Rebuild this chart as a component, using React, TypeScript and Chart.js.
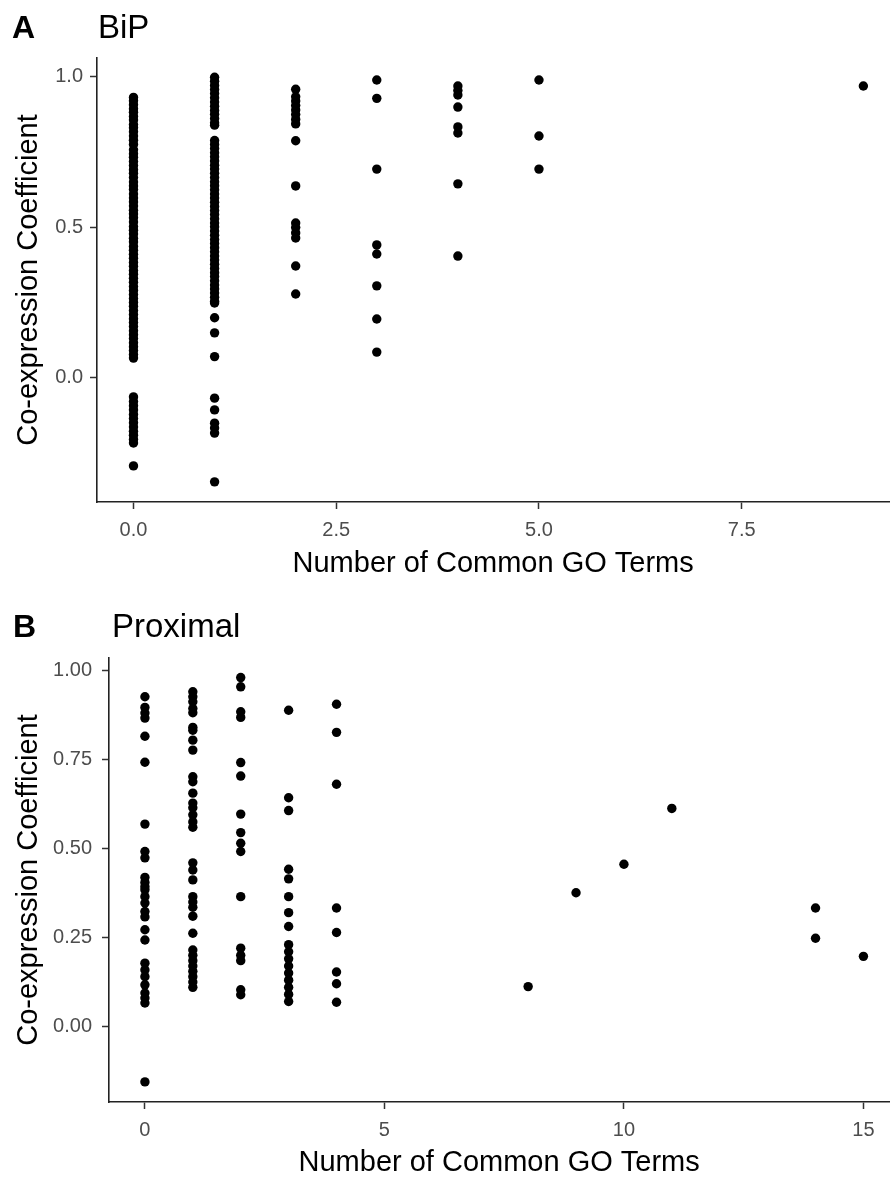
import React, { useEffect, useRef } from "react";
import { Chart, registerables } from "chart.js";

Chart.register(...registerables);

const FONT = "'Liberation Sans', Arial, sans-serif";

// ---------- Panel A: BiP ----------
const bipGO0 = [0.932, 0.921, 0.908, 0.894, 0.883, 0.869, 0.857, 0.842, 0.831, 0.818, 0.804, 0.79, 0.776, 0.758, 0.745, 0.733, 0.719, 0.706, 0.692, 0.68, 0.666, 0.651, 0.638, 0.626, 0.611, 0.598, 0.585, 0.571, 0.557, 0.545, 0.532, 0.518, 0.503, 0.491, 0.478, 0.464, 0.452, 0.437, 0.424, 0.411, 0.398, 0.384, 0.371, 0.357, 0.345, 0.331, 0.318, 0.304, 0.291, 0.277, 0.264, 0.251, 0.238, 0.224, 0.211, 0.197, 0.184, 0.171, 0.157, 0.144, 0.131, 0.117, 0.104, 0.091, 0.078, 0.066, -0.063, -0.078, -0.092, -0.106, -0.121, -0.135, -0.149, -0.163, -0.177, -0.19, -0.204, -0.216, -0.292];
const bipGO1 = [0.999, 0.986, 0.972, 0.958, 0.945, 0.931, 0.917, 0.903, 0.889, 0.876, 0.862, 0.848, 0.84, 0.789, 0.776, 0.762, 0.748, 0.735, 0.721, 0.707, 0.694, 0.68, 0.666, 0.652, 0.639, 0.625, 0.611, 0.598, 0.584, 0.57, 0.556, 0.543, 0.529, 0.515, 0.502, 0.488, 0.474, 0.46, 0.447, 0.433, 0.419, 0.405, 0.392, 0.378, 0.364, 0.35, 0.337, 0.323, 0.309, 0.296, 0.282, 0.268, 0.255, 0.249, 0.2, 0.15, 0.071, -0.067, -0.106, -0.15, -0.166, -0.183, -0.345];
const bipGO2 = [0.959, 0.934, 0.92, 0.905, 0.89, 0.875, 0.859, 0.844, 0.788, 0.638, 0.515, 0.5, 0.482, 0.465, 0.372, 0.279];
const bipGO3 = [0.99, 0.929, 0.694, 0.442, 0.412, 0.306, 0.196, 0.086];
const bipGO4 = [0.97, 0.955, 0.94, 0.9, 0.834, 0.814, 0.645, 0.405];
const bipGO5 = [0.99, 0.804, 0.694];
const bipGO9 = [0.97];
const bipGroups: [number, number[]][] = [
  [0, bipGO0], [1, bipGO1], [2, bipGO2], [3, bipGO3], [4, bipGO4], [5, bipGO5], [9, bipGO9],
];
const bipXTicks = [0, 2.5, 5, 7.5];
const bipXTickLabels = ["0.0", "2.5", "5.0", "7.5"];
const bipYTicks = [0, 0.5, 1];
const bipYTickLabels = ["0.0", "0.5", "1.0"];

// ---------- Panel B: Proximal ----------
const proxGO0 = [0.927, 0.897, 0.881, 0.867, 0.816, 0.743, 0.569, 0.492, 0.474, 0.419, 0.405, 0.393, 0.384, 0.365, 0.347, 0.323, 0.308, 0.272, 0.243, 0.178, 0.159, 0.14, 0.117, 0.094, 0.08, 0.066, -0.156];
const proxGO1 = [0.941, 0.927, 0.913, 0.894, 0.882, 0.841, 0.833, 0.805, 0.777, 0.702, 0.688, 0.656, 0.628, 0.615, 0.595, 0.575, 0.56, 0.46, 0.44, 0.412, 0.365, 0.35, 0.335, 0.31, 0.262, 0.215, 0.2, 0.185, 0.17, 0.155, 0.14, 0.125, 0.11];
const proxGO2 = [0.981, 0.955, 0.885, 0.869, 0.742, 0.704, 0.597, 0.545, 0.515, 0.492, 0.365, 0.22, 0.2, 0.185, 0.103, 0.089];
const proxGO3 = [0.889, 0.643, 0.607, 0.442, 0.415, 0.365, 0.32, 0.281, 0.23, 0.21, 0.19, 0.17, 0.15, 0.13, 0.11, 0.09, 0.07];
const proxGO4 = [0.906, 0.827, 0.681, 0.333, 0.264, 0.153, 0.12, 0.068];
const proxGO8 = [0.112];
const proxGO9 = [0.376];
const proxGO10 = [0.456];
const proxGO11 = [0.613];
const proxGO14 = [0.333, 0.248];
const proxGO15 = [0.197];
const proxGroups: [number, number[]][] = [
  [0, proxGO0], [1, proxGO1], [2, proxGO2], [3, proxGO3], [4, proxGO4],
  [8, proxGO8], [9, proxGO9], [10, proxGO10], [11, proxGO11], [14, proxGO14], [15, proxGO15],
];
const proxXTicks = [0, 5, 10, 15];
const proxXTickLabels = ["0", "5", "10", "15"];
const proxYTicks = [0, 0.25, 0.5, 0.75, 1];
const proxYTickLabels = ["0.00", "0.25", "0.50", "0.75", "1.00"];

const X_TITLE = "Number of Common GO Terms";
const Y_TITLE = "Co-expression Coefficient";

type PanelSpec = {
  tag: string;
  title: string;
  groups: [number, number[]][];
  xMin: number; xMax: number; yMin: number; yMax: number;
  xTicks: number[]; xTickLabels: string[];
  yTicks: number[]; yTickLabels: string[];
  height: number;
  plotTop: number; plotLeft: number; xAxisHeight: number;
  yTickPad: number; xTitlePadBottom: number;
  tagX: number; titleX: number; baseline: number;
};

const panels: PanelSpec[] = [
  {
    tag: "A", title: "BiP", groups: bipGroups,
    xMin: -0.45, xMax: 9.32, yMin: -0.412, yMax: 1.063,
    xTicks: bipXTicks, xTickLabels: bipXTickLabels, yTicks: bipYTicks, yTickLabels: bipYTickLabels,
    height: 590, plotTop: 58, plotLeft: 97, xAxisHeight: 88,
    yTickPad: 7, xTitlePadBottom: 12,
    tagX: 12, titleX: 98, baseline: 38,
  },
  {
    tag: "B", title: "Proximal", groups: proxGroups,
    xMin: -0.75, xMax: 15.54, yMin: -0.2125, yMax: 1.036,
    xTicks: proxXTicks, xTickLabels: proxXTickLabels, yTicks: proxYTicks, yTickLabels: proxYTickLabels,
    height: 588, plotTop: 68, plotLeft: 109, xAxisHeight: 76,
    yTickPad: 10, xTitlePadBottom: 1,
    tagX: 13, titleX: 112, baseline: 47,
  },
];

function buildChart(canvas: HTMLCanvasElement, p: PanelSpec) {
  const points = p.groups.flatMap(([x, ys]) => ys.map((y) => ({ x, y })));
  const titlePlugin = {
    id: "panelTitle",
    afterDraw(chart: any) {
      const ctx = chart.ctx;
      ctx.save();
      ctx.fillStyle = "#000";
      ctx.textBaseline = "alphabetic";
      ctx.textAlign = "left";
      ctx.font = `bold 32px ${FONT}`;
      ctx.fillText(p.tag, p.tagX, p.baseline);
      ctx.font = `33px ${FONT}`;
      ctx.fillText(p.title, p.titleX, p.baseline);
      ctx.restore();
    },
  };
  const tickFont = { family: FONT, size: 20 };
  const titleFont = { family: FONT, size: 29, lineHeight: 1 };
  return new Chart(canvas, {
    type: "scatter",
    data: {
      datasets: [
        {
          data: points,
          backgroundColor: "#000",
          borderColor: "#000",
          borderWidth: 0,
          pointRadius: 4.7,
          pointHoverRadius: 4.7,
        },
      ],
    },
    options: {
      responsive: false,
      animation: false,
      events: [],
      layout: { padding: { top: p.plotTop, left: 0, right: 0, bottom: 0 } },
      plugins: { legend: { display: false }, tooltip: { enabled: false } },
      scales: {
        x: {
          type: "linear",
          min: p.xMin,
          max: p.xMax,
          afterBuildTicks: (s: any) => {
            s.ticks = p.xTicks.map((v) => ({ value: v }));
          },
          afterFit: (s: any) => {
            s.height = p.xAxisHeight;
          },
          ticks: {
            callback: (v: any) => p.xTickLabels[p.xTicks.indexOf(Number(v))] ?? "",
            color: "#4D4D4D",
            font: tickFont,
            padding: 9,
            maxRotation: 0,
            autoSkip: false,
          },
          grid: { drawOnChartArea: false, drawTicks: true, tickLength: 7, tickColor: "#333", tickWidth: 1.5 },
          border: { display: true, color: "#222", width: 1.6 },
          title: { display: true, text: X_TITLE, color: "#000", font: titleFont, padding: { top: 0, bottom: p.xTitlePadBottom } },
        },
        y: {
          type: "linear",
          min: p.yMin,
          max: p.yMax,
          afterBuildTicks: (s: any) => {
            s.ticks = p.yTicks.map((v) => ({ value: v }));
          },
          afterFit: (s: any) => {
            s.width = p.plotLeft;
          },
          ticks: {
            callback: (v: any) => p.yTickLabels[p.yTicks.indexOf(Number(v))] ?? "",
            color: "#4D4D4D",
            font: tickFont,
            padding: p.yTickPad,
            autoSkip: false,
          },
          grid: { drawOnChartArea: false, drawTicks: true, tickLength: 7, tickColor: "#333", tickWidth: 1.5 },
          border: { display: true, color: "#222", width: 1.6 },
          title: { display: true, text: Y_TITLE, color: "#000", font: titleFont, padding: { top: 14, bottom: 0 } },
        },
      },
    } as any,
    plugins: [titlePlugin],
  });
}

function Panel({ spec }: { spec: PanelSpec }) {
  const ref = useRef<HTMLCanvasElement | null>(null);
  useEffect(() => {
    if (!ref.current) return;
    const chart = buildChart(ref.current, spec);
    return () => chart.destroy();
  }, [spec]);
  return <canvas ref={ref} width={894} height={spec.height} style={{ display: "block" }} />;
}

export default function App() {
  return (
    <div style={{ position: "fixed", left: 0, top: 0, width: 894, height: 1178, background: "#fff", overflow: "hidden" }}>
      {panels.map((p) => (
        <Panel key={p.tag} spec={p} />
      ))}
    </div>
  );
}
